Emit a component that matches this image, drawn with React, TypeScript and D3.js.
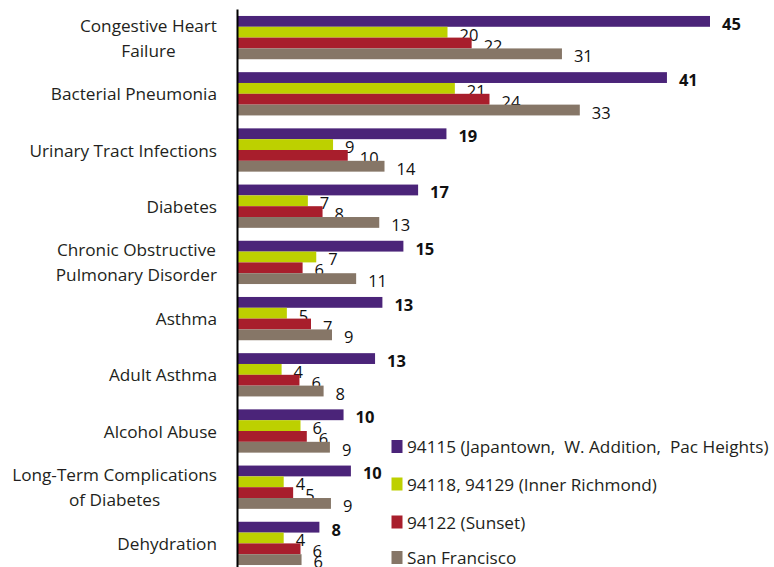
import React, { useEffect, useRef } from "react";
import * as d3 from "d3";

const categories = [
  "Congestive Heart\nFailure",
  "Bacterial Pneumonia",
  "Urinary Tract Infections",
  "Diabetes",
  "Chronic Obstructive\nPulmonary Disorder",
  "Asthma",
  "Adult Asthma",
  "Alcohol Abuse",
  "Long-Term Complications\nof Diabetes",
  "Dehydration",
];

const seriesNames = [
  "94115 (Japantown,  W. Addition,  Pac Heights)",
  "94118, 94129 (Inner Richmond)",
  "94122 (Sunset)",
  "San Francisco",
];

const seriesColors = ["#4b2479", "#bdd000", "#a81e2c", "#867667"];

// bar lengths
const japantown = [45, 40.9, 19.9, 17.2, 15.8, 13.8, 13.1, 10.1, 10.8, 7.8];
const innerRichmond = [20, 20.7, 9.1, 6.7, 7.5, 4.7, 4.2, 6.0, 4.4, 4.4];
const sunset = [22.3, 24, 10.5, 8.1, 6.2, 7.0, 5.9, 6.6, 5.3, 6.0];
const sanFrancisco = [30.9, 32.6, 14, 13.5, 11.3, 9.0, 8.2, 8.8, 8.9, 6.1];

// value labels as printed
const japantownLabels = [45, 41, 19, 17, 15, 13, 13, 10, 10, 8];
const innerRichmondLabels = [20, 21, 9, 7, 7, 5, 4, 6, 4, 4];
const sunsetLabels = [22, 24, 10, 8, 6, 7, 6, 6, 5, 6];
const sanFranciscoLabels = [31, 33, 14, 13, 11, 9, 8, 9, 9, 6];

const seriesValues = [japantown, innerRichmond, sunset, sanFrancisco];
const seriesLabels = [japantownLabels, innerRichmondLabels, sunsetLabels, sanFranciscoLabels];

const W = 774;
const H = 567;
const FONT = "'Open Sans', sans-serif";

export default function App() {
  const ref = useRef<SVGSVGElement | null>(null);

  useEffect(() => {
    const svg = d3.select(ref.current);
    svg.selectAll("*").remove();

    const axisX = 237.5;
    const x = d3.scaleLinear().domain([0, 45]).range([axisX, 710]);
    const y = d3
      .scaleBand<string>()
      .domain(categories)
      .range([9.5, 571.5])
      .paddingInner(0.23)
      .paddingOuter(0.115);
    const inner = d3
      .scaleBand<number>()
      .domain([0, 1, 2, 3])
      .range([0, y.bandwidth()]);

    const g = svg.append("g");

    seriesValues.forEach((vals, si) => {
      g.selectAll(`.bar${si}`)
        .data(vals)
        .enter()
        .append("rect")
        .attr("x", axisX)
        .attr("y", (_d, i) => (y(categories[i]) as number) + (inner(si) as number))
        .attr("width", (d) => x(d) - axisX)
        .attr("height", inner.bandwidth())
        .attr("fill", seriesColors[si]);

      g.selectAll(`.lab${si}`)
        .data(vals)
        .enter()
        .append("text")
        .attr("x", (d) => x(d) + 12)
        .attr(
          "y",
          (_d, i) =>
            (y(categories[i]) as number) + (inner(si) as number) + inner.bandwidth() / 2 + 2
        )
        .attr("dominant-baseline", "central")
        .attr("font-family", FONT)
        .attr("font-size", 16.5)
        .attr("font-weight", si === 0 ? 700 : 400)
        .attr("fill", "#111")
        .text((_d, i) => String(seriesLabels[si][i]));
    });

    // axis line
    g.append("line")
      .attr("x1", axisX)
      .attr("x2", axisX)
      .attr("y1", y.range()[0])
      .attr("y2", y.range()[1])
      .attr("stroke", "#000")
      .attr("stroke-width", 2);

    // category labels: block right-aligned, lines centered within block
    const labelRight = 217;
    const lineH = 25;
    categories.forEach((c) => {
      const lines = c.split("\n");
      const cy = (y(c) as number) + y.bandwidth() / 2;
      const grp = g.append("g");
      const texts = lines.map((ln, li) =>
        grp
          .append("text")
          .attr("y", cy + (li - (lines.length - 1) / 2) * lineH)
          .attr("dominant-baseline", "central")
          .attr("text-anchor", "middle")
          .attr("font-family", FONT)
          .attr("font-size", 17.2)
          .attr("fill", "#231f20")
          .text(ln)
      );
      const maxW = d3.max(texts, (t) => (t.node() as SVGTextElement).getComputedTextLength()) || 0;
      texts.forEach((t) => t.attr("x", labelRight - maxW / 2));
    });

    // legend
    const legY = [446.5, 484, 522, 557.5];
    seriesNames.forEach((name, si) => {
      g.append("rect")
        .attr("x", 391.5)
        .attr("y", legY[si] - 6.5)
        .attr("width", 11)
        .attr("height", 13)
        .attr("fill", seriesColors[si]);
      g.append("text")
        .attr("x", 407)
        .attr("y", legY[si])
        .attr("dominant-baseline", "central")
        .attr("font-family", FONT)
        .attr("font-size", 17.2)
        .attr("fill", "#231f20")
        .style("white-space", "pre")
        .text(name);
    });
  }, []);

  return (
    <svg
      ref={ref}
      width={W}
      height={H}
      style={{ position: "absolute", left: 0, top: 0, background: "#fff" }}
    />
  );
}
